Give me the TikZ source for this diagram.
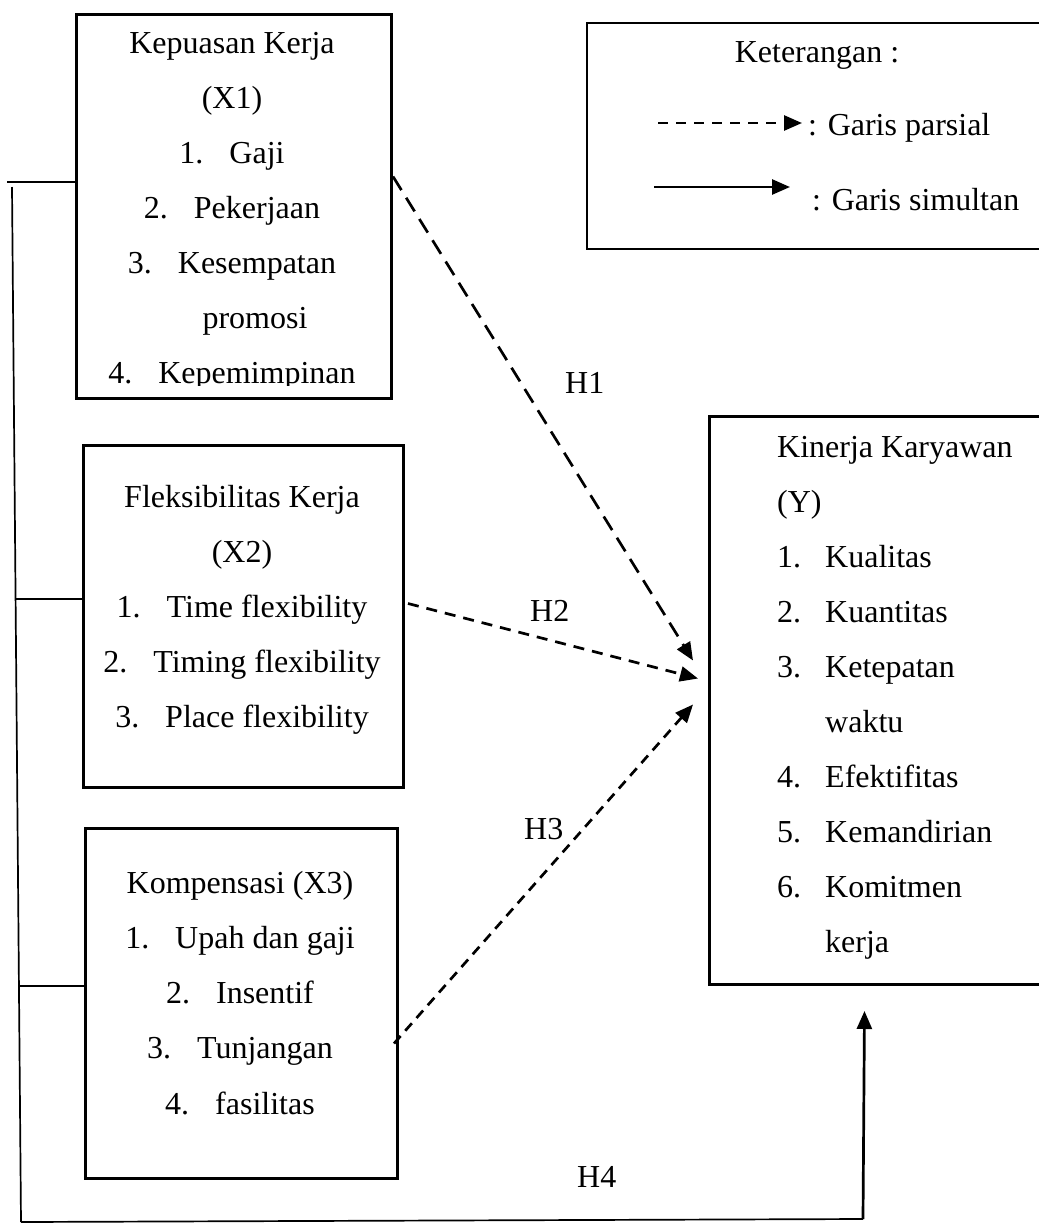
\documentclass[tikz,border=0pt]{standalone}
\usepackage{fontspec}
\setmainfont{Liberation Serif}
\usetikzlibrary{arrows.meta}
\newcommand\itm[2]{#1\hspace{26pt}#2}
\newcommand\ytm[2]{\makebox[48pt][l]{#1}#2}
\begin{document}
\begin{tikzpicture}[x=1pt,y=-1pt,
  box/.style={draw,line width=3pt,inner sep=0pt,anchor=north west},
  legendbox/.style={draw,line width=1.5pt,inner sep=0pt,anchor=north west},
  txt/.style={inner sep=0pt,anchor=base,font=\fontsize{32}{38}\selectfont},
  ltxt/.style={txt,anchor=base west},
  tip/.style={-{Triangle[length=18pt,width=15pt]}},
  conn/.style={line width=1.7pt},
  arr/.style={line width=2.7pt,tip}]
\useasboundingbox (0,0) rectangle (1039,1227);
\fill[white] (0,0) rectangle (1039,1227);

% boxes
\node[box,minimum width=315pt,minimum height=384pt] (x1) at (75,13) {};
\node[box,minimum width=320pt,minimum height=342pt] (x2) at (82,444) {};
\node[box,minimum width=312pt,minimum height=350pt] (x3) at (84,827) {};
\node[box,minimum width=342pt,minimum height=568pt] (y) at (708,415) {};
\node[legendbox,minimum width=470pt,minimum height=226pt] (leg) at (586,22) {};

% X1 text
\node[txt] (x1t1) at (232,53) {Kepuasan Kerja};
\node[txt] (x1t2) at (232,108) {(X1)};
\node[txt] (x1t3) at (232,163) {\itm{1.}{Gaji}};
\node[txt] (x1t4) at (232,218) {\itm{2.}{Pekerjaan}};
\node[txt] (x1t5) at (232,273) {\itm{3.}{Kesempatan}};
\node[txt] (x1t6) at (255,328) {promosi};
\begin{scope}
\clip (75,13) rectangle (390,385);
\node[txt] (x1t7) at (232,383) {\itm{4.}{Kepemimpinan}};
\end{scope}

% X2 text
\node[txt] (x2t1) at (242,507) {Fleksibilitas Kerja};
\node[txt] (x2t2) at (242,562) {(X2)};
\node[txt] (x2t3) at (242,617) {\itm{1.}{Time flexibility}};
\node[txt] (x2t4) at (242,672) {\itm{2.}{Timing flexibility}};
\node[txt] (x2t5) at (242,727) {\itm{3.}{Place flexibility}};

% X3 text
\node[txt] (x3t1) at (240,893) {Kompensasi (X3)};
\node[txt] (x3t2) at (240,948) {\itm{1.}{Upah dan gaji}};
\node[txt] (x3t3) at (240,1003) {\itm{2.}{Insentif}};
\node[txt] (x3t4) at (240,1058) {\itm{3.}{Tunjangan}};
\node[txt] (x3t5) at (240,1114) {\itm{4.}{fasilitas}};

% Y text
\node[ltxt] (yt1) at (777,457) {Kinerja Karyawan};
\node[ltxt] (yt2) at (777,512) {(Y)};
\node[ltxt] (yt3) at (777,567) {\ytm{1.}{Kualitas}};
\node[ltxt] (yt4) at (777,622) {\ytm{2.}{Kuantitas}};
\node[ltxt] (yt5) at (777,677) {\ytm{3.}{Ketepatan}};
\node[ltxt] (yt6) at (825,732) {waktu};
\node[ltxt] (yt7) at (777,787) {\ytm{4.}{Efektifitas}};
\node[ltxt] (yt8) at (777,842) {\ytm{5.}{Kemandirian}};
\node[ltxt] (yt9) at (777,897) {\ytm{6.}{Komitmen}};
\node[ltxt] (yt10) at (825,952) {kerja};

% legend
\node[txt] (legt) at (817,62) {Keterangan :};
\node[ltxt] (legp) at (808,135) {: Garis parsial};
\node[ltxt] (legs) at (812,210) {: Garis simultan};
\coordinate (lda) at (658,123);
\coordinate (ldb) at (802,123);
\coordinate (lsa) at (654,187);
\coordinate (lsb) at (790,187);
\draw[arr,dash pattern=on 10pt off 8pt] (lda) -- (ldb);
\draw[arr] (lsa) -- (lsb);

% H arrows
\coordinate (s1) at ([yshift=30pt]x1.east);
\coordinate (s2) at ([yshift=13pt,xshift=3pt]x2.east);
\coordinate (s3) at ([shift={(-5pt,-40pt)}]x3.east);
\coordinate (t1) at ([shift={(-15pt,40pt)}]y.west);
\coordinate (t2) at ([shift={(-10pt,22pt)}]y.west);
\coordinate (t3) at ([shift={(-15pt,-4pt)}]y.west);
\draw[arr,dash pattern=on 16pt off 9pt] (s1) -- (t1);
\draw[arr,dash pattern=on 11pt off 8pt] (s2) -- (t2);
\draw[arr,dash pattern=on 10pt off 7pt] (s3) -- (t3);

\node[ltxt] (h1) at (565,393) {H1};
\node[ltxt] (h2) at (530,621) {H2};
\node[ltxt] (h3) at (524,839) {H3};
\node[ltxt] (h4) at (577,1187) {H4};

% left bracket and H4
\coordinate (c1) at (7,182);
\coordinate (c2) at (16,599);
\coordinate (c3) at (20,986);
\coordinate (v1) at (12,187);
\coordinate (b1) at (21,1222);
\coordinate (b2) at (863,1219);
\coordinate (t4) at ([shift={(-16pt,-25pt)}]y.south);
\draw[conn] (c1) -- (x1.west |- c1);
\draw[conn] (c2) -- (x2.west |- c2);
\draw[conn] (c3) -- (x3.west |- c3);
\draw[conn] (v1) -- (b1);
\draw[conn] (b1) -- (b2);
\draw[line width=2.7pt,tip] (b2) -- (t4);
\end{tikzpicture}
\end{document}
